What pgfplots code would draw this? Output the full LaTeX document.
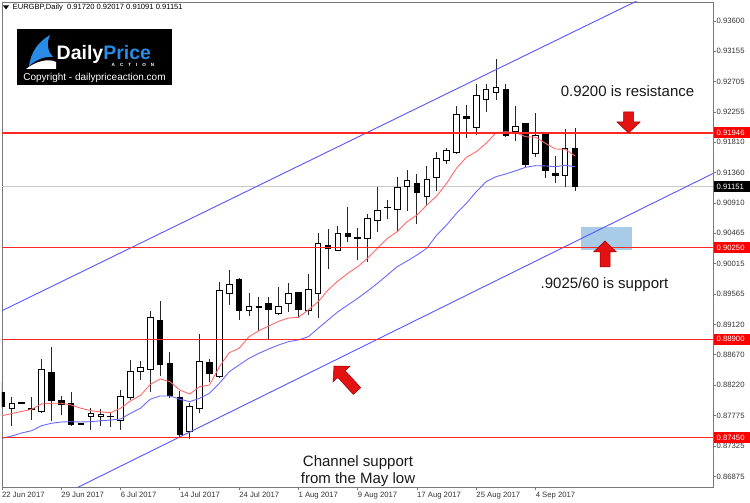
\documentclass[border=0pt]{standalone}
\usepackage{pgfplots}
\pgfplotsset{compat=1.18}
\usepackage{pgfplotstable}
\usepackage{fontspec}
\setmainfont{Liberation Sans}
\definecolor{levelred}{RGB}{255,40,40}
\definecolor{mared}{RGB}{255,105,105}
\definecolor{mablue}{RGB}{105,105,255}
\definecolor{chblue}{RGB}{85,85,255}
\definecolor{bidgray}{RGB}{200,200,200}
\definecolor{zone}{RGB}{168,204,232}
\definecolor{arrred}{RGB}{228,18,18}
\definecolor{arrdark}{RGB}{150,0,0}
\definecolor{framec}{RGB}{120,120,120}
\definecolor{logoblue}{RGB}{40,140,230}
\newcommand{\tickfont}{\fontsize{7.7}{8}\selectfont}

\pgfplotstableread{
x o h l c
1 0.87881 0.88044 0.87620 0.87955
4 0.87841 0.88605 0.87807 0.88457
9 0.87757 0.87881 0.87561 0.87797
10 0.87753 0.87866 0.87620 0.87787
12 0.87708 0.88151 0.87561 0.88048
13 0.88038 0.88594 0.88004 0.88417
14 0.88417 0.88580 0.88299 0.88481
15 0.88457 0.89318 0.88126 0.89225
19 0.87536 0.87964 0.87423 0.87905
20 0.87871 0.88974 0.87807 0.88569
22 0.88348 0.89750 0.88323 0.89613
23 0.89579 0.89923 0.89406 0.89712
25 0.89318 0.89579 0.89248 0.89377
28 0.89284 0.89668 0.89259 0.89387
29 0.89432 0.89736 0.89308 0.89569
31 0.89318 0.89860 0.89259 0.89628
32 0.89569 0.90465 0.89210 0.90307
34 0.90218 0.90573 0.90204 0.90465
37 0.90381 0.90746 0.90046 0.90686
38 0.90647 0.91153 0.90480 0.90805
40 0.90809 0.91301 0.90480 0.91138
41 0.91153 0.91400 0.90799 0.91242
43 0.91005 0.91463 0.90868 0.91262
44 0.91292 0.91670 0.91090 0.91562
45 0.91547 0.91729 0.91488 0.91685
46 0.91661 0.92345 0.91636 0.92212
48 0.92032 0.92665 0.91916 0.92497
49 0.92433 0.92665 0.92260 0.92581
50 0.92547 0.93034 0.92433 0.92621
52 0.91965 0.92345 0.91832 0.92049
54 0.91646 0.92237 0.91584 0.91916
57 0.91311 0.92001 0.91149 0.91714
}\bull

\pgfplotstableread{
x o h l c
0 0.88107 0.88270 0.87886 0.87908
2 0.87960 0.87974 0.87945 0.87956
3 0.87871 0.88048 0.87708 0.87856
5 0.88407 0.88782 0.87698 0.87989
6 0.87989 0.88063 0.87782 0.87940
7 0.87955 0.88117 0.87624 0.87649
8 0.87650 0.87657 0.87642 0.87646
11 0.87758 0.87816 0.87610 0.87754
16 0.89170 0.89470 0.88358 0.88535
17 0.88546 0.88708 0.88029 0.88063
18 0.88044 0.88141 0.87438 0.87487
21 0.88560 0.88609 0.88274 0.88398
24 0.89776 0.89801 0.89185 0.89322
26 0.89378 0.89529 0.89023 0.89374
27 0.89421 0.89520 0.88890 0.89343
30 0.89584 0.89588 0.89210 0.89343
33 0.90288 0.90524 0.89938 0.90238
35 0.90455 0.90849 0.90332 0.90415
36 0.90397 0.90539 0.90071 0.90393
39 0.90850 0.90957 0.90676 0.90846
42 0.91203 0.91341 0.90598 0.91065
47 0.92187 0.92359 0.91868 0.92153
51 0.92591 0.92669 0.91891 0.91902
53 0.92079 0.92089 0.91448 0.91474
55 0.91927 0.91950 0.91286 0.91389
56 0.91341 0.91606 0.91203 0.91321
58 0.91720 0.92017 0.91091 0.91151
}\bear

\pgfplotstableread{
x y
0 0.87772
1 0.87804
2 0.87835
3 0.87866
4 0.87945
5 0.87955
6 0.87955
7 0.87930
8 0.87881
9 0.87846
10 0.87827
11 0.87816
12 0.87881
13 0.87989
14 0.88070
15 0.88233
16 0.88314
17 0.88274
18 0.88151
19 0.88092
20 0.88200
21 0.88225
22 0.88495
23 0.88702
24 0.88767
25 0.88938
26 0.89027
27 0.89096
28 0.89166
29 0.89214
30 0.89225
31 0.89333
32 0.89455
33 0.89628
34 0.89761
35 0.89874
36 0.89972
37 0.90096
38 0.90244
39 0.90391
40 0.90489
41 0.90636
42 0.90735
43 0.90883
44 0.91016
45 0.91203
46 0.91425
47 0.91587
48 0.91670
49 0.91794
50 0.91950
51 0.91965
52 0.91950
53 0.91891
54 0.91883
55 0.91794
56 0.91710
57 0.91705
58 0.91606
}\redma

\pgfplotstableread{
x y
0 0.87438
1 0.87472
2 0.87517
3 0.87550
4 0.87624
5 0.87660
6 0.87679
7 0.87683
8 0.87679
9 0.87683
10 0.87698
11 0.87708
12 0.87723
13 0.87807
14 0.87881
15 0.88014
16 0.88063
17 0.88063
18 0.88014
19 0.87979
20 0.88029
21 0.88103
22 0.88250
23 0.88422
24 0.88521
25 0.88619
26 0.88693
27 0.88757
28 0.88816
29 0.88865
30 0.88890
31 0.88938
32 0.89062
33 0.89185
34 0.89307
35 0.89406
36 0.89505
37 0.89613
38 0.89727
39 0.89849
40 0.89972
41 0.90056
42 0.90145
43 0.90244
44 0.90440
45 0.90588
46 0.90760
47 0.90908
48 0.91079
49 0.91227
50 0.91301
51 0.91341
52 0.91389
53 0.91440
54 0.91463
55 0.91459
56 0.91448
57 0.91469
58 0.91448
}\bluema

\pgfplotstableread{
x a b c d
0 0.91946 0.90250 0.88900 0.87450
72 0.91946 0.90250 0.88900 0.87450
}\levels

\newcommand{\redarrow}[4]{%
  \begin{scope}[shift={(#1,#2)}, rotate=#3]
    \filldraw[fill=arrred, draw=arrdark, line width=0.5pt]
      (0,0) -- (11.5,11) -- (5,11) -- (5,#4) -- (-5,#4) -- (-5,11) -- (-11.5,11) -- cycle;
  \end{scope}}

\pgfplotsset{candle/.style={draw=none, mark=none, error bars/.cd, y dir=plus, y explicit, error mark=none},
  level/.style={color=levelred, line width=1.3pt}}

\begin{document}
\begin{tikzpicture}
\useasboundingbox (0,0) rectangle (750pt,503pt);
\fill[white] (0,0) rectangle (750pt,503pt);
\begin{axis}[
  at={(2pt,16pt)}, anchor=south west,
  scale only axis, width=711pt, height=485pt,
  xmin=0, xmax=71.96, ymin=0.86719, ymax=0.93880,
  axis line style={draw=framec, line width=0.8pt},
  xtick={0,6,12,18,24,30,36,42,48,54},
  xticklabels={22 Jun 2017,29 Jun 2017,6 Jul 2017,14 Jul 2017,24 Jul 2017,1 Aug 2017,9 Aug 2017,17 Aug 2017,25 Aug 2017,4 Sep 2017},
  ytick={0.86875,0.87325,0.87775,0.88220,0.88670,0.89120,0.89565,0.90015,0.90465,0.90910,0.91360,0.91810,0.92255,0.92705,0.93155,0.93600},
  yticklabels={0.86875,0.87325,0.87775,0.88220,0.88670,0.89120,0.89565,0.90015,0.90465,0.90910,0.91360,0.91810,0.92255,0.92705,0.93155,0.93600},
  xtick pos=left, ytick pos=right, yticklabel pos=right,
  tick align=outside, major tick length=3pt,
  tick style={draw=framec, line width=0.8pt},
  ticklabel style={font=\tickfont, text=black!80},
  xticklabel style={anchor=north west, inner sep=0pt, yshift=-2pt},
  yticklabel style={anchor=west, inner sep=0pt, xshift=0.5pt},
  /pgf/number format/assume math mode=true,
]
% support zone
\addplot[fill=zone, draw=none] coordinates {(58.6,0.90215) (63.77,0.90215) (63.77,0.90565) (58.6,0.90565)} -- cycle;
% bid line
\addplot[draw=bidgray, line width=0.8pt] coordinates {(0,0.91151) (72,0.91151)};
% wicks
\addplot[candle, error bar style={draw=black!85, line width=1pt}]
  table[x=x, y=l, y error expr=\thisrow{h}-\thisrow{l}] {\bull};
\addplot[candle, error bar style={draw=black!85, line width=1pt}]
  table[x=x, y=l, y error expr=\thisrow{h}-\thisrow{l}] {\bear};
% bodies
\addplot[candle, error bar style={draw=black, line width=6.6pt, shorten <=-0.5pt, shorten >=-0.5pt}]
  table[x=x, y=c, y error expr=\thisrow{o}-\thisrow{c}] {\bear};
\addplot[candle, error bar style={draw=black, line width=6.6pt, shorten <=-0.5pt, shorten >=-0.5pt}]
  table[x=x, y=o, y error expr=\thisrow{c}-\thisrow{o}] {\bull};
\addplot[candle, error bar style={draw=white, line width=4.6pt, shorten <=0.5pt, shorten >=0.5pt}]
  table[x=x, y=o, y error expr=\thisrow{c}-\thisrow{o}] {\bull};
% moving averages
\addplot[draw=mared, line width=0.9pt] table[x=x, y=y] {\redma};
\addplot[draw=mablue, line width=0.9pt] table[x=x, y=y] {\bluema};
% channel
\addplot[draw=chblue, line width=0.9pt] coordinates {(0,0.89322) (70,0.94305)};
\addplot[draw=chblue, line width=0.9pt] coordinates {(0,0.86161) (72,0.91351)};
% horizontal levels
\addplot[level] table[x=x, y=a] {\levels};
\addplot[level] table[x=x, y=b] {\levels};
\addplot[level] table[x=x, y=c] {\levels};
\addplot[level] table[x=x, y=d] {\levels};
\end{axis}

\begin{scope}[x=1pt, y=-1pt, yshift=503pt]
  % price boxes
  \fill[red] (713.6,127.5) rectangle (750,138.5);
  \node[anchor=west, inner sep=0pt, font=\tickfont, text=white] at (716.5,133) {0.91946};
  \fill[black] (713.6,181.3) rectangle (750,192.3);
  \node[anchor=west, inner sep=0pt, font=\tickfont, text=white] at (716.5,186.8) {0.91151};
  \fill[red] (713.6,242.4) rectangle (750,253.4);
  \node[anchor=west, inner sep=0pt, font=\tickfont, text=white] at (716.5,247.9) {0.90250};
  \fill[red] (713.6,333.8) rectangle (750,344.8);
  \node[anchor=west, inner sep=0pt, font=\tickfont, text=white] at (716.5,339.3) {0.88900};
  \fill[red] (713.6,432) rectangle (750,443);
  \node[anchor=west, inner sep=0pt, font=\tickfont, text=white] at (716.5,437.5) {0.87450};
  % header
  \fill[black] (3,5.5) -- (9,5.5) -- (6,9.5) -- cycle;
  \node[anchor=west, inner sep=0pt, font=\fontsize{7.6}{8}\selectfont] at (12.5,8) {EURGBP,Daily\ \ 0.91720 0.92017 0.91091 0.91151};
  % logo
  \fill[black] (17,29) rectangle (172,85);
  \fill[white] (26,69) .. controls (36,61) and (49,58) .. (56,62) -- (56,69) -- cycle;
  \fill[logoblue] (29,66) .. controls (31,52) and (38,42) .. (50,35) .. controls (46,44) and (48,52) .. (53,57) .. controls (44,56) and (36,60) .. (29,66) -- cycle;
  \node[anchor=base west, inner sep=0pt, font=\fontsize{19.5}{20}\selectfont\bfseries] at (56.5,59.5) {\textcolor{white}{Daily}\textcolor{logoblue}{Price}};
  \node[anchor=base, inner sep=0pt, font=\fontsize{4.6}{5}\selectfont\bfseries, text=white] at (133,66.5) {A\hspace{5pt}C\hspace{5pt}T\hspace{5pt}I\hspace{5pt}O\hspace{5pt}N};
  \node[anchor=base, inner sep=0pt, font=\fontsize{10}{10}\selectfont, text=white] at (94.5,80.5) {Copyright - dailypriceaction.com};
  % annotations
  \node[anchor=base, inner sep=0pt, font=\fontsize{15}{15}\selectfont, text=black!90] at (627.5,96.4) {0.9200 is resistance};
  \node[anchor=base, inner sep=0pt, font=\fontsize{15}{15}\selectfont, text=black!90] at (604.5,288.4) {.9025/60 is support};
  \node[anchor=base, inner sep=0pt, font=\fontsize{15}{15}\selectfont, text=black!90] at (358,466.4) {Channel support};
  \node[anchor=base, inner sep=0pt, font=\fontsize{15}{15}\selectfont, text=black!90] at (358,483.4) {from the May low};
  % arrows
  \redarrow{628.5}{133}{180}{21}
  \redarrow{605}{241}{0}{26}
  \redarrow{334}{366}{42.6}{34}
\end{scope}
\end{tikzpicture}
\end{document}
